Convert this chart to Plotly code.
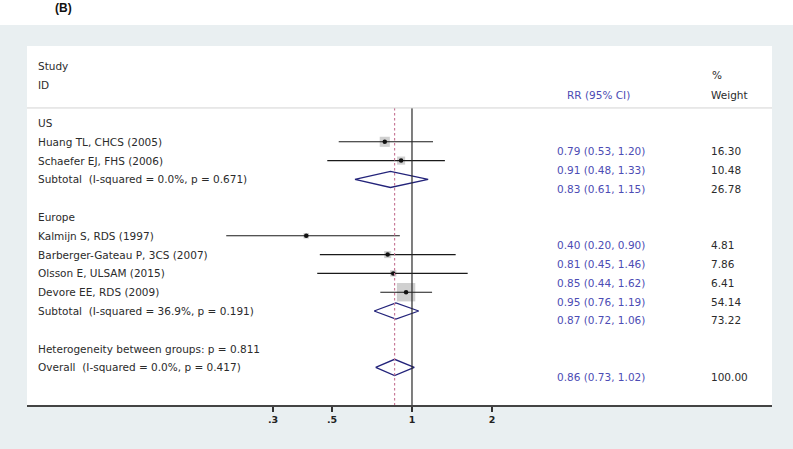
import math
import plotly.graph_objects as go

# ---------------- data ----------------
study_names = ["Huang TL, CHCS (2005)", "Schaefer EJ, FHS (2006)",
               "Kalmijn S, RDS (1997)", "Barberger-Gateau P, 3CS (2007)",
               "Olsson E, ULSAM (2015)", "Devore EE, RDS (2009)"]
study_group = ["US", "US", "Europe", "Europe", "Europe", "Europe"]
study_rr = [0.79, 0.91, 0.40, 0.81, 0.85, 0.95]
study_lo = [0.53, 0.48, 0.20, 0.45, 0.44, 0.76]
study_hi = [1.20, 1.33, 0.90, 1.46, 1.62, 1.19]
study_wt = [16.30, 10.48, 4.81, 7.86, 6.41, 54.14]

groups = ["US", "Europe"]
sub_labels = ["Subtotal\u00a0 (I-squared = 0.0%, p = 0.671)",
              "Subtotal\u00a0 (I-squared = 36.9%, p = 0.191)"]
sub_rr = [0.83, 0.87]
sub_lo = [0.61, 0.72]
sub_hi = [1.15, 1.06]
sub_wt = [26.78, 73.22]

het_label = "Heterogeneity between groups: p = 0.811"
overall_label = "Overall\u00a0 (I-squared = 0.0%, p = 0.417)"
overall_rr = 0.86
overall_lo = 0.73
overall_hi = 1.02
overall_wt = 100.00

x_tickvals = [0.3, 0.5, 1, 2]
x_ticktext = [".3", ".5", "1", "2"]

# ---------------- style ----------------
FONT = "DejaVu Sans"
FS = 10.5
TXT = "#2b2b2b"
BLUE = "#4c4cb4"
NAVY = "#23237a"
BG = "#e9eff1"

W, H = 793, 449
def px(x):
    return x / W
def py(y):
    return (H - y) / H

# row layout
group_row = {}
study_row = [None] * len(study_names)
sub_row = []
r = 0
for g in groups:
    group_row[g] = r
    r += 1
    for i, sg in enumerate(study_group):
        if sg == g:
            study_row[i] = r
            r += 1
    sub_row.append(r)
    r += 2
het_row = r
overall_row = r + 1

fmt = lambda a, b, c: f"{a:.2f} ({b:.2f}, {c:.2f})"

fig = go.Figure()

# weight boxes
fig.add_trace(go.Scatter(
    x=study_rr, y=study_row, mode="markers",
    marker=dict(symbol="square", color="#bcbcbc",
                size=[2.5 * math.sqrt(w) for w in study_wt], line=dict(width=0)),
    hoverinfo="skip", showlegend=False))

# CI lines
cx, cy = [], []
for lo, hi, rr_ in zip(study_lo, study_hi, study_row):
    cx += [lo, hi, None]
    cy += [rr_, rr_, None]
fig.add_trace(go.Scatter(x=cx, y=cy, mode="lines",
                         line=dict(color="#1a1a1a", width=1.1),
                         hoverinfo="skip", showlegend=False))

# point estimates
fig.add_trace(go.Scatter(x=study_rr, y=study_row, mode="markers",
                         marker=dict(symbol="circle", color="#111111", size=4.5),
                         hoverinfo="skip", showlegend=False))

# diamonds
h = 0.43
dx, dy = [], []
for lo, m, hi, rr_ in zip(sub_lo + [overall_lo], sub_rr + [overall_rr],
                          sub_hi + [overall_hi], sub_row + [overall_row]):
    dx += [lo, m, hi, m, lo, None]
    dy += [rr_, rr_ - h, rr_, rr_ + h, rr_, None]
fig.add_trace(go.Scatter(x=dx, y=dy, mode="lines",
                         line=dict(color=NAVY, width=1.3),
                         hoverinfo="skip", showlegend=False))

y_top = -0.8
y_bot = 15.0
# overall dashed line and null line
fig.add_trace(go.Scatter(x=[overall_rr, overall_rr], y=[y_top, y_bot], mode="lines",
                         line=dict(color="#c87a98", width=1.2, dash="2.5px,2.5px"),
                         hoverinfo="skip", showlegend=False))
fig.add_trace(go.Scatter(x=[1, 1], y=[y_top, y_bot], mode="lines",
                         line=dict(color="#2a2a2a", width=1.2),
                         hoverinfo="skip", showlegend=False))

ann = []
def add_text(xp, yv, text, color=TXT, size=FS, yref="y"):
    ann.append(dict(x=xp, y=yv, xref="paper", yref=yref, text=text,
                    showarrow=False, xanchor="left", yanchor="middle",
                    font=dict(family=FONT, size=size, color=color)))

LX = px(36)
RX = px(555)
WX = px(709)
# headers
add_text(LX, -3.03, "Study")
add_text(LX, -2.02, "ID")
add_text(px(565), -1.49, "RR (95% CI)", color=BLUE)
add_text(px(710), -2.55, "%")
add_text(WX, -1.49, "Weight")

for g in groups:
    add_text(LX, group_row[g], g)
for i, name in enumerate(study_names):
    add_text(LX, study_row[i], name)
    add_text(RX, study_row[i] + 0.5, fmt(study_rr[i], study_lo[i], study_hi[i]), color=BLUE)
    add_text(WX, study_row[i] + 0.5, f"{study_wt[i]:.2f}")
for j in range(len(groups)):
    add_text(LX, sub_row[j], sub_labels[j])
    add_text(RX, sub_row[j] + 0.5, fmt(sub_rr[j], sub_lo[j], sub_hi[j]), color=BLUE)
    add_text(WX, sub_row[j] + 0.5, f"{sub_wt[j]:.2f}")
add_text(LX, het_row, het_label)
add_text(LX, overall_row, overall_label)
add_text(RX, overall_row + 0.5, fmt(overall_rr, overall_lo, overall_hi), color=BLUE)
add_text(WX, overall_row + 0.5, f"{overall_wt:.2f}")

# panel label
ann.append(dict(x=px(53), y=py(8), xref="paper", yref="paper", text="<b>(B)</b>",
                showarrow=False, xanchor="left", yanchor="middle",
                font=dict(family="Liberation Sans", size=12, color="#111111")))

shapes = [
    dict(type="rect", xref="paper", yref="paper", x0=0, x1=1, y0=py(25), y1=1,
         fillcolor="white", line=dict(width=0), layer="below"),
    dict(type="line", xref="paper", yref="y", x0=px(27), x1=px(772), y0=y_top, y1=y_top,
         line=dict(color="#d4d4d4", width=1)),
]

fig.update_layout(
    width=W, height=H,
    margin=dict(l=0, r=0, t=0, b=0),
    paper_bgcolor=BG, plot_bgcolor="white",
    showlegend=False,
    annotations=ann, shapes=shapes,
    xaxis=dict(type="log", domain=[px(27), px(772)], range=[-1.4487, 1.3547],
               tickvals=x_tickvals, ticktext=["<b>" + t + "</b>" for t in x_ticktext],
               ticks="outside", ticklen=5, tickwidth=1.5, tickcolor="#333333",
               showline=True, linecolor="#444444", linewidth=1.5,
               showgrid=False, zeroline=False,
               tickfont=dict(family=FONT, size=9.5, color="#222222")),
    yaxis=dict(domain=[py(405), py(46)], range=[y_bot, -4.096],
               visible=False, showgrid=False, zeroline=False),
)

fig.write_html("out.html", config={"displayModeBar": False},
               post_script="document.body.style.margin='0';document.body.style.overflow='hidden';")
